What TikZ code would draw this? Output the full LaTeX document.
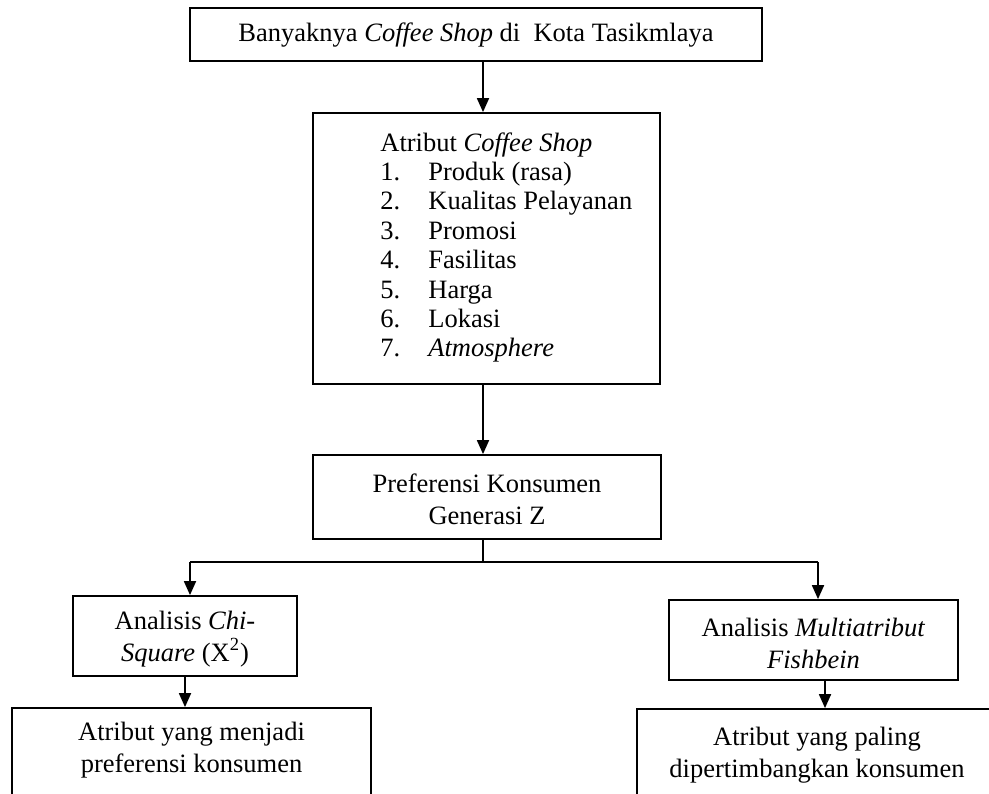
\documentclass[tikz,border=0pt]{standalone}
\usepackage{fontspec}
\setmainfont{Liberation Serif}
\usetikzlibrary{arrows.meta,fit}
\begin{document}
\begin{tikzpicture}[x=0.5pt,y=-0.5pt,
  box/.style={draw, line width=0.9pt, inner sep=0pt},
  txt/.style={align=center, inner sep=0pt, font=\fontsize{13.25pt}{16pt}\selectfont},
  arr/.style={line width=0.9pt, -{Triangle[width=6pt,length=7pt]}},
  ln/.style={line width=0.9pt}]
\useasboundingbox (0,0) rectangle (989,793);
\fill[white] (0,0) rectangle (989,793);

\node[box, fit={(190,8) (762,61)}] (top) {};
\node[txt] (toptext) at (476,35) {Banyaknya \textit{Coffee Shop} di\ \ Kota Tasikmlaya};

\node[box, fit={(313,113) (660,384)}] (attr) {};
\node[txt, align=left, anchor=north west, font=\fontsize{13.25pt}{14.7pt}\selectfont] (attrlist) at (380,132)
  {Atribut \textit{Coffee Shop}\\
   \makebox[24pt][l]{1.}Produk (rasa)\\
   \makebox[24pt][l]{2.}Kualitas Pelayanan\\
   \makebox[24pt][l]{3.}Promosi\\
   \makebox[24pt][l]{4.}Fasilitas\\
   \makebox[24pt][l]{5.}Harga\\
   \makebox[24pt][l]{6.}Lokasi\\
   \makebox[24pt][l]{7.}\textit{Atmosphere}};

\node[box, fit={(313,455) (661,539)}] (pref) {};
\node[txt] (preftext) at (487,499) {Preferensi Konsumen\\Generasi Z};
\node[box, fit={(73,596) (297,676)}] (chi) {};
\node[txt] (chitext) at (185,639) {Analisis \textit{Chi-}\\\textit{Square} (X\textsuperscript{2})};
\node[box, fit={(669,600) (958,680)}] (fish) {};
\node[txt] (fishtext) at (813.5,643) {Analisis \textit{Multiatribut}\\\textit{Fishbein}};
\node[box, fit={(12,708) (371,840)}] (bl) {};
\node[txt] (bltext) at (191.5,750) {Atribut yang menjadi\\preferensi konsumen};
\node[box, fit={(637,709) (997,840)}] (br) {};
\node[txt] (brtext) at (817,755) {Atribut yang paling\\dipertimbangkan konsumen};

\coordinate (spine) at (483,0);
\coordinate (jc) at (483,562);
\coordinate (jl) at (190,562);
\coordinate (jr) at (818,562);
\coordinate (fa) at (825,0);

\draw[arr] (top.south -| spine) -- (attr.north -| spine);
\draw[arr] (attr.south -| spine) -- (pref.north -| spine);
\draw[ln] (pref.south -| spine) -- (jc);
\draw[ln] (jl) -- (jr);
\draw[arr] (jl) -- (jl |- chi.north);
\draw[arr] (jr) -- (jr |- fish.north);
\draw[arr] (chi.south) -- (chi.south |- bl.north);
\draw[arr] (fish.south -| fa) -- (br.north -| fa);
\end{tikzpicture}
\end{document}
